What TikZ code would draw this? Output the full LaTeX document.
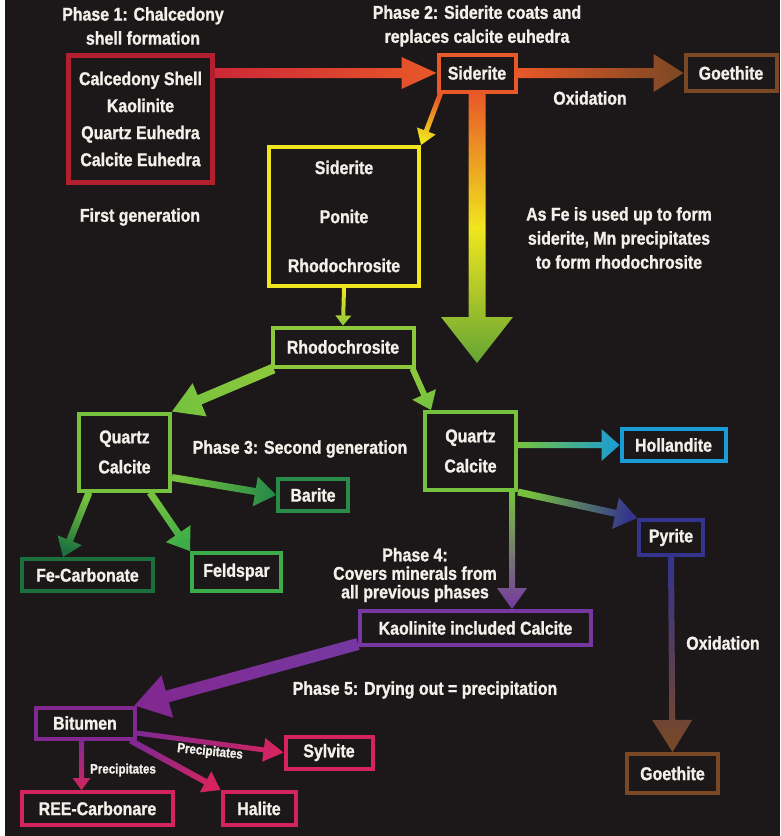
\documentclass[tikz,border=0pt]{standalone}
\usepackage{fontspec}
\setmainfont{Liberation Sans}[FakeStretch=0.86, BoldFeatures={FakeBold=1.2}]
\usetikzlibrary{calc,positioning}
\definecolor{bgdark}{RGB}{28,24,25}
\definecolor{txtwhite}{RGB}{242,240,234}
\definecolor{shellred}{RGB}{178,32,48}
\definecolor{arrowred}{RGB}{205,40,55}
\definecolor{sidorange}{RGB}{232,88,40}
\definecolor{goebrown}{RGB}{122,72,36}
\definecolor{rhoyellow}{RGB}{240,230,30}
\definecolor{rholime}{RGB}{140,200,60}
\definecolor{qcgreen}{RGB}{118,194,62}
\definecolor{bargreen}{RGB}{40,140,72}
\definecolor{fecgreen}{RGB}{28,112,62}
\definecolor{feldgreen}{RGB}{60,172,72}
\definecolor{hollblue}{RGB}{26,156,215}
\definecolor{pyrindigo}{RGB}{52,52,142}
\definecolor{kaopurple}{RGB}{118,56,160}
\definecolor{bitpurple}{RGB}{130,40,145}
\definecolor{saltpink}{RGB}{212,36,96}

% gradient arrow: from, to, shaft half width, head half width, head length, start colour, end colour, extra
\newcommand{\garrow}[8]{%
  \path let \p1=(#1), \p2=(#2), \n1={atan2(\y2-\y1,\x2-\x1)-90} in \pgfextra{\xdef\garang{\n1}};
  \coordinate (gH) at ($(#2)!#5pt!(#1)$);
  \shade[bottom color=#6, top color=#7, #8, shading angle=\garang]
    ($(#1)!#3pt!90:(#2)$) -- ($(gH)!#3pt!90:(#2)$) -- ($(gH)!#4pt!90:(#2)$) -- (#2)
    -- ($(gH)!#4pt!-90:(#2)$) -- ($(gH)!#3pt!-90:(#2)$) -- ($(#1)!#3pt!-90:(#2)$) -- cycle;
}

\begin{document}
\begin{tikzpicture}[x=1pt,y=-1pt,
box/.style={draw,line width=4pt,fill=bgdark,text=txtwhite,inner sep=0pt,align=center,
  font=\bfseries\fontsize{18.5}{24}\selectfont},
lbl/.style={text=txtwhite,align=center,inner sep=0pt,font=\bfseries\fontsize{18.5}{24}\selectfont},
small/.style={text=txtwhite,inner sep=0pt,font=\bfseries\fontsize{13.5}{15}\selectfont}
]
\useasboundingbox (0,0) rectangle (780,836);
\fill[white] (0,0) rectangle (5,836);
\fill[bgdark] (5,0) rectangle (780,836);

% phase 1 and 2
\node[lbl] (ph1) at (143,26) {Phase 1: Chalcedony\\shell formation};
\node[box,draw=shellred,line width=5pt,minimum width=144pt,minimum height=127pt] (shell) at (140.5,119)
  {Calcedony Shell\\[3pt]Kaolinite\\[3pt]Quartz Euhedra\\[3pt]Calcite Euhedra};
\node[lbl] (gen1) at (140,217) {First generation};
\node[lbl] (ph2) at (477,26) {Phase 2: Siderite coats and\\replaces calcite euhedra};
\node[box,draw=sidorange,minimum width=77pt,minimum height=37pt] (sid) at (477,73) {Siderite};
\node[box,draw=goebrown,minimum width=91pt,minimum height=36pt] (goe1) at (731,73) {Goethite};
\node[lbl] (ox1) at (590,98) {Oxidation};
\node[box,draw=rhoyellow,minimum width=150pt,minimum height=139pt] (yel) at (344,216.5)
  {Siderite\\[25pt]Ponite\\[25pt]Rhodochrosite};
\node[lbl] (fenote) at (619,238) {As Fe is used up to form\\siderite, Mn precipitates\\to form rhodochrosite};
\node[box,draw=rholime,minimum width=141pt,minimum height=39pt] (rho) at (343,347) {Rhodochrosite};

% phase 3
\node[box,draw=qcgreen,minimum width=91pt,minimum height=77pt] (qcl) at (124.5,452) {Quartz\\[6pt]Calcite};
\node[box,draw=qcgreen,minimum width=91pt,minimum height=78pt] (qcr) at (470.5,451) {Quartz\\[6pt]Calcite};
\node[lbl] (ph3) at (300,449) {Phase 3: Second generation};
\node[box,draw=bargreen,minimum width=70pt,minimum height=32pt] (bar) at (313,495) {Barite};
\node[box,draw=fecgreen,minimum width=131pt,minimum height=32pt] (fec) at (87.5,575) {Fe-Carbonate};
\node[box,draw=feldgreen,minimum width=89pt,minimum height=38pt] (feld) at (236.5,572) {Feldspar};
\node[box,draw=hollblue,minimum width=104pt,minimum height=32pt] (holl) at (673.5,445) {Hollandite};
\node[box,draw=pyrindigo,minimum width=64pt,minimum height=35pt] (pyr) at (671,537.5) {Pyrite};

% phase 4 and 5
\node[lbl,font=\bfseries\fontsize{18.5}{18.5}\selectfont] (ph4) at (415,575) {Phase 4:\\Covers minerals from\\all previous phases};
\node[box,draw=kaopurple,minimum width=231pt,minimum height=34pt] (kao) at (475.5,628) {Kaolinite included Calcite};
\node[lbl] (ph5) at (425,690) {Phase 5: Drying out = precipitation};
\node[box,draw=bitpurple,minimum width=99pt,minimum height=31pt] (bit) at (85,723) {Bitumen};
\node[box,draw=saltpink,minimum width=87pt,minimum height=32pt] (sylv) at (329,752.5) {Sylvite};
\node[box,draw=saltpink,minimum width=151pt,minimum height=33pt] (ree) at (97.5,808.5) {REE-Carbonare};
\node[box,draw=saltpink,minimum width=73pt,minimum height=33pt] (hal) at (259,808.5) {Halite};
\node[lbl] (ox2) at (723,643) {Oxidation};
\node[box,draw=goebrown,minimum width=91pt,minimum height=39pt] (goe2) at (672.5,773.5) {Goethite};
\node[small,rotate=-6] (prec1) at (210,752) {Precipitates};
\node[small] (prec2) at (123,770) {Precipitates};

% free ends
\coordinate (shellE) at (shell.east |- sid.west);
\coordinate (sidSW) at ($(sid.south west)+(4,0)$);
\coordinate (bigtip) at (477,363);
\coordinate (rhoSW) at ($(rho.south west)+(3,0)$);
\coordinate (rhoSE) at ($(rho.south east)+(-3,0)$);
\coordinate (qcrNW) at ($(qcr.north west)+(8,0)$);
\coordinate (qclE) at ($(qcl.south east)+(0,-15)$);
\coordinate (qclSW) at ($(qcl.south west)+(12,0)$);
\coordinate (fecN) at ($(fec.north west)+(43,0)$);
\coordinate (qclSE) at ($(qcl.south east)+(-22,0)$);
\coordinate (qcrE) at (qcr.east |- holl.west);
\coordinate (qcrS) at ($(qcr.south east)+(-6,0)$);
\coordinate (kaoN) at (qcrS |- kao.north);
\coordinate (kaoSW) at ($(kao.south west)+(0,-3)$);
\coordinate (bitNE) at ($(bit.north east)+(-2,0)$);
\coordinate (bitE) at ($(bit.east)+(0,10)$);
\coordinate (bitS) at ($(bit.south west)+(48,0)$);
\coordinate (reeN) at (bitS |- ree.north);
\coordinate (bitSE) at ($(bit.south east)+(-6,0)$);

% connectors
\garrow{shellE}{sid.west}{5}{16}{35}{arrowred}{sidorange}{}
\garrow{sid.east}{goe1.west}{5}{19}{30}{sidorange}{goebrown}{}
\garrow{sidSW}{yel.north east}{2.5}{10}{15}{sidorange}{rhoyellow}{}
\garrow{sid.south}{bigtip}{8.5}{36}{46}{sidorange}{qcgreen!85!black}{middle color=rhoyellow}
\garrow{yel.south}{rho.north}{2}{8}{10}{rhoyellow}{rholime}{}
\garrow{rhoSW}{qcl.north east}{5}{18}{30}{rholime}{qcgreen}{}
\garrow{rhoSE}{qcrNW}{3}{13}{17}{rholime}{qcgreen}{}
\garrow{qclE}{bar.west}{3.5}{15}{21}{qcgreen}{bargreen}{}
\garrow{qclSW}{fecN}{3.5}{13}{18}{qcgreen}{fecgreen}{}
\garrow{qclSE}{feld.north west}{3.5}{15}{21}{qcgreen}{feldgreen}{}
\garrow{qcrE}{holl.west}{3}{16}{18}{qcgreen}{hollblue}{}
\garrow{qcr.south east}{pyr.north west}{3.5}{16}{22}{qcgreen}{pyrindigo}{}
\garrow{qcrS}{kaoN}{3}{15}{21}{qcgreen}{kaopurple}{}
\garrow{kaoSW}{bitNE}{6}{22}{34}{kaopurple}{bitpurple}{}
\garrow{pyr.south}{goe2.north}{3}{20}{32}{pyrindigo}{goebrown}{}
\garrow{bitE}{sylv.west}{2.5}{12}{20}{bitpurple}{saltpink}{}
\garrow{bitS}{reeN}{2.5}{9}{12}{bitpurple}{saltpink}{}
\garrow{bitSE}{hal.north west}{3}{12}{17}{bitpurple}{saltpink}{}
\end{tikzpicture}
\end{document}
